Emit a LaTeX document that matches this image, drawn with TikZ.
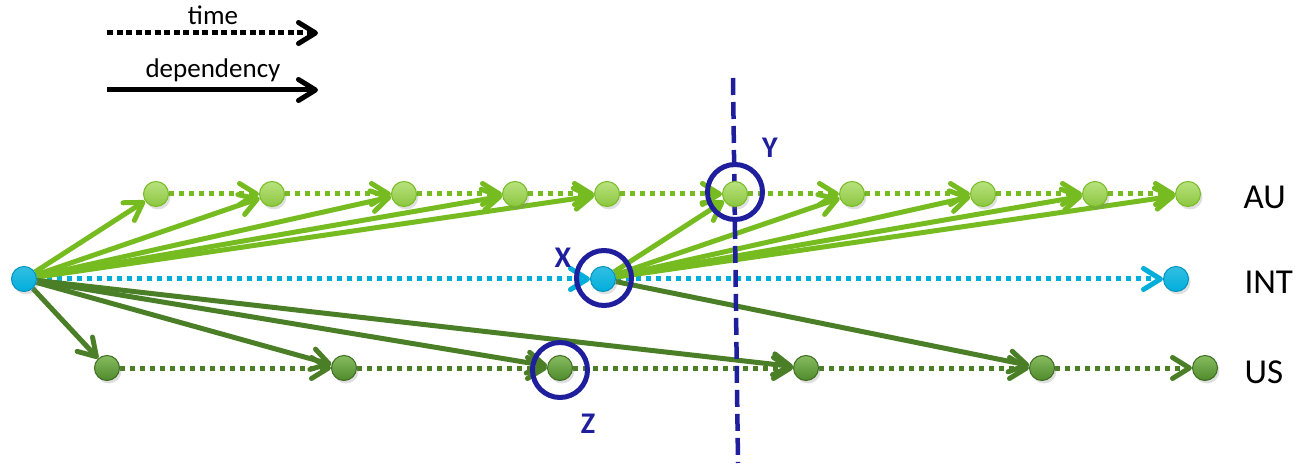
\documentclass[tikz,border=0pt]{standalone}
\usepackage{fontspec}
\setmainfont{Carlito}
\usetikzlibrary{arrows.meta,shadows}
\pgfdeclarelayer{bg}
\pgfsetlayers{bg,main}
\definecolor{aug}{HTML}{76BC21}
\definecolor{augtop}{HTML}{B8E27F}
\definecolor{augbot}{HTML}{8CC63F}
\definecolor{usg}{HTML}{4B7F27}
\definecolor{usgtop}{HTML}{86BC60}
\definecolor{usgbot}{HTML}{4E8A2C}
\definecolor{intc}{HTML}{00AEDB}
\definecolor{intdark}{HTML}{0093C0}
\definecolor{navy}{HTML}{1F1F9E}
\tikzset{
  tip/.style={-{Straight Barb[length=17pt,width=21pt,round]}},
  nodeshadow/.style={drop shadow={opacity=0.25,shadow xshift=2pt,shadow yshift=-3pt}},
  aunode/.style={circle,minimum size=25pt,inner sep=0pt,draw=aug,line width=1pt,top color=augtop,bottom color=augbot,nodeshadow},
  usnode/.style={circle,minimum size=25pt,inner sep=0pt,draw=usg!85!black,line width=1pt,top color=usgtop,bottom color=usgbot,nodeshadow},
  intnode/.style={circle,minimum size=25pt,inner sep=0pt,draw=intdark,line width=1pt,top color=intc!80!white,bottom color=intc,nodeshadow},
  timearrow/.style={tip,line width=5pt,dash pattern=on 5pt off 5pt},
  deparrow/.style={tip,line width=5pt},
  ring/.style={circle,draw=navy,line width=5pt,inner sep=0pt,minimum size=55pt},
  marklabel/.style={text=navy,font=\bfseries\fontsize{30}{36}\selectfont},
  rowlabel/.style={anchor=west,font=\fontsize{35}{42}\selectfont},
  legendlabel/.style={font=\fontsize{27}{32}\selectfont}
}
\begin{document}
\begin{tikzpicture}[x=1pt,y=-1pt]
\useasboundingbox (0,0) rectangle (1299,465);
% legend
\node[legendlabel] (lt) at (213,15) {time};
\node[legendlabel] (ld) at (213,70) {dependency};
\coordinate (lt1) at (107,33);
\coordinate (lt2) at (318,33);
\coordinate (ld1) at (107,90);
\coordinate (ld2) at (318,90);
\draw[tip,line width=5pt,dash pattern=on 6pt off 3.5pt,black] (lt1) -- (lt2);
\draw[deparrow,black] (ld1) -- (ld2);
% nodes
\node[aunode] (a1) at (156,194) {};
\node[aunode] (a2) at (272,194) {};
\node[aunode] (a3) at (404,194) {};
\node[aunode] (a4) at (515,194) {};
\node[aunode] (a5) at (607,194) {};
\node[aunode] (a6) at (735,194) {};
\node[aunode] (a7) at (852,194) {};
\node[aunode] (a8) at (983,194) {};
\node[aunode] (a9) at (1095,194) {};
\node[aunode] (a10) at (1188,194) {};
\node[intnode] (i0) at (24,279) {};
\node[intnode] (i1) at (603,279) {};
\node[intnode] (i2) at (1176,279) {};
\node[usnode] (u1) at (107,368) {};
\node[usnode] (u2) at (344,368) {};
\node[usnode] (u3) at (560,368) {};
\node[usnode] (u4) at (806,368) {};
\node[usnode] (u5) at (1042,368) {};
\node[usnode] (u6) at (1205,368) {};
\coordinate (vtop) at (733,78);
\coordinate (vbot) at (738,463);
\begin{pgfonlayer}{bg}
% time arrows
\foreach \p/\q in {a1/a2,a2/a3,a3/a4,a4/a5,a5/a6,a6/a7,a7/a8,a8/a9,a9/a10}
  \draw[timearrow,aug] (\p) -- (\q);
\foreach \p/\q in {u1/u2,u2/u3,u3/u4,u4/u5,u5/u6}
  \draw[timearrow,usg] (\p) -- (\q);
\foreach \p/\q in {i0/i1,i1/i2}
  \draw[timearrow,intc] (\p) -- (\q);
% dependencies
\foreach \q in {a1,a2,a3,a4,a5}
  \draw[deparrow,aug] (i0) -- (\q);
\foreach \q in {a6,a7,a8,a9,a10}
  \draw[deparrow,aug] (i1) -- (\q);
\foreach \q in {u1,u2,u3,u4}
  \draw[deparrow,usg] (i0) -- (\q);
\draw[deparrow,usg] (i1) -- (u5);
% cut line
\draw[navy,line width=4.5pt,dash pattern=on 17pt off 7pt] (vtop) -- (vbot);
\end{pgfonlayer}
% rings and marks
\node[ring] (ry) at (735,192) {};
\node[ring] (rx) at (604,278) {};
\node[ring] (rz) at (560,370) {};
\node[marklabel] (ly) at (770,148) {Y};
\node[marklabel] (lx) at (563,258) {X};
\node[marklabel] (lz) at (588,424) {Z};
% row labels
\node[rowlabel] (lau) at (1240,197) {AU};
\node[rowlabel] (lint) at (1241,282) {INT};
\node[rowlabel] (lus) at (1241,372) {US};
\end{tikzpicture}
\end{document}
